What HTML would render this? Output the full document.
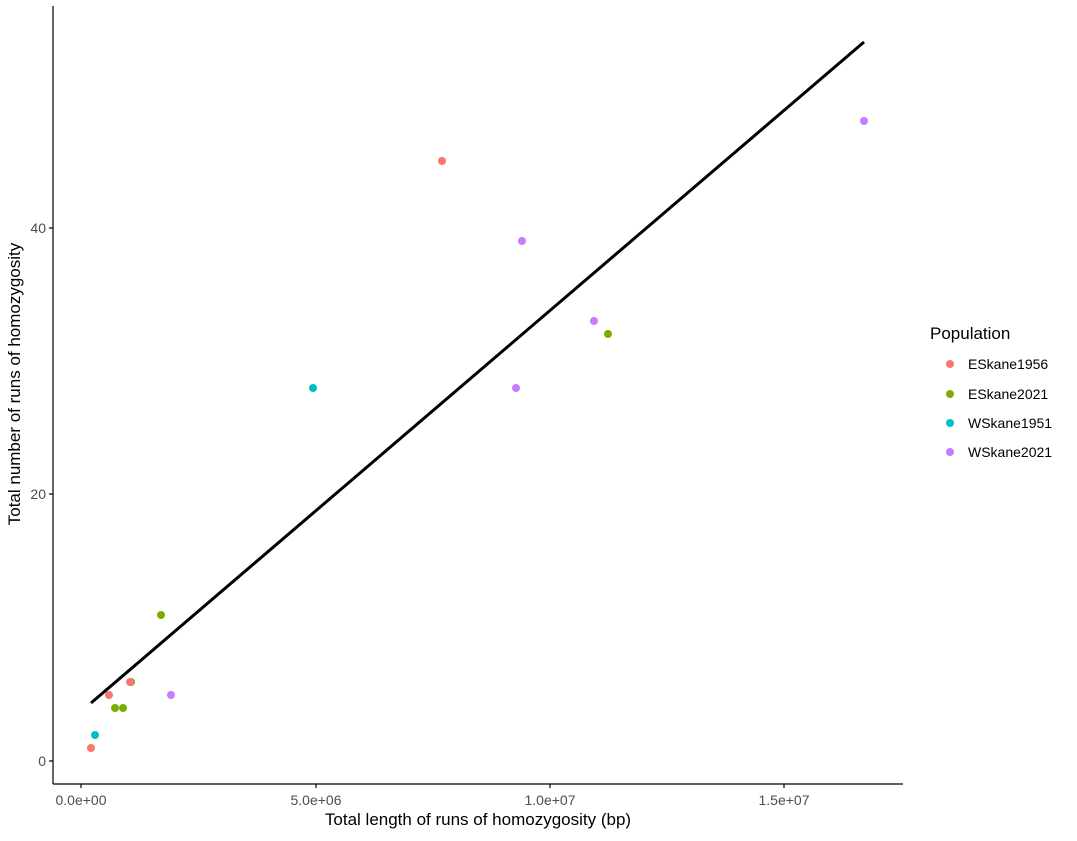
<!DOCTYPE html>
<html><head><style>body{margin:0;background:#fff}</style></head><body>
<svg width="1077" height="836" xmlns="http://www.w3.org/2000/svg" font-family="Liberation Sans, sans-serif">
<rect width="1077" height="836" fill="#fff"/>
<g stroke="#000" stroke-width="1.2">
<line x1="53" y1="6" x2="53" y2="784"/>
<line x1="53" y1="784" x2="903" y2="784"/>
<line x1="49" y1="761" x2="53" y2="761"/><line x1="49" y1="494" x2="53" y2="494"/><line x1="49" y1="228" x2="53" y2="228"/>
<line x1="81" y1="784" x2="81" y2="788"/><line x1="316" y1="784" x2="316" y2="788"/><line x1="550" y1="784" x2="550" y2="788"/><line x1="784" y1="784" x2="784" y2="788"/>
</g>
<g font-size="14" fill="#4d4d4d" text-anchor="end">
<text x="46" y="766">0</text><text x="46" y="499">20</text><text x="46" y="233">40</text>
</g>
<g font-size="14" fill="#4d4d4d" text-anchor="middle">
<text x="81" y="805">0.0e+00</text><text x="316" y="805">5.0e+06</text><text x="550" y="805">1.0e+07</text><text x="784" y="805">1.5e+07</text>
</g>
<text x="478" y="825" font-size="17" text-anchor="middle">Total length of runs of homozygosity (bp)</text>
<text transform="translate(20,384) rotate(-90)" font-size="17" text-anchor="middle">Total number of runs of homozygosity</text>
<line x1="91" y1="703" x2="864" y2="42" stroke="#000" stroke-width="3"/>
<g>
<circle cx="91" cy="748" r="4" fill="#F8766D"/>
<circle cx="95" cy="735" r="4" fill="#00BFC4"/>
<circle cx="115" cy="708" r="4" fill="#7CAE00"/>
<circle cx="123" cy="708" r="4" fill="#7CAE00"/>
<circle cx="131" cy="682" r="4" fill="#7CAE00"/>
<circle cx="130" cy="682" r="4" fill="#F8766D"/>
<circle cx="109" cy="695" r="4" fill="#F8766D"/>
<circle cx="171" cy="695" r="4" fill="#C77CFF"/>
<circle cx="161" cy="615" r="4" fill="#7CAE00"/>
<circle cx="313" cy="388" r="4" fill="#00BFC4"/>
<circle cx="442" cy="161" r="4" fill="#F8766D"/>
<circle cx="522" cy="241" r="4" fill="#C77CFF"/>
<circle cx="516" cy="388" r="4" fill="#C77CFF"/>
<circle cx="594" cy="321" r="4" fill="#C77CFF"/>
<circle cx="608" cy="334" r="4" fill="#7CAE00"/>
<circle cx="864" cy="121" r="4" fill="#C77CFF"/>
</g>
<text x="930" y="339" font-size="17">Population</text>
<g font-size="14">
<circle cx="950" cy="364" r="4" fill="#F8766D"/><text x="968" y="369">ESkane1956</text>
<circle cx="950" cy="394" r="4" fill="#7CAE00"/><text x="968" y="399">ESkane2021</text>
<circle cx="950" cy="423" r="4" fill="#00BFC4"/><text x="968" y="428">WSkane1951</text>
<circle cx="950" cy="452" r="4" fill="#C77CFF"/><text x="968" y="457">WSkane2021</text>
</g>
</svg>
</body></html>
